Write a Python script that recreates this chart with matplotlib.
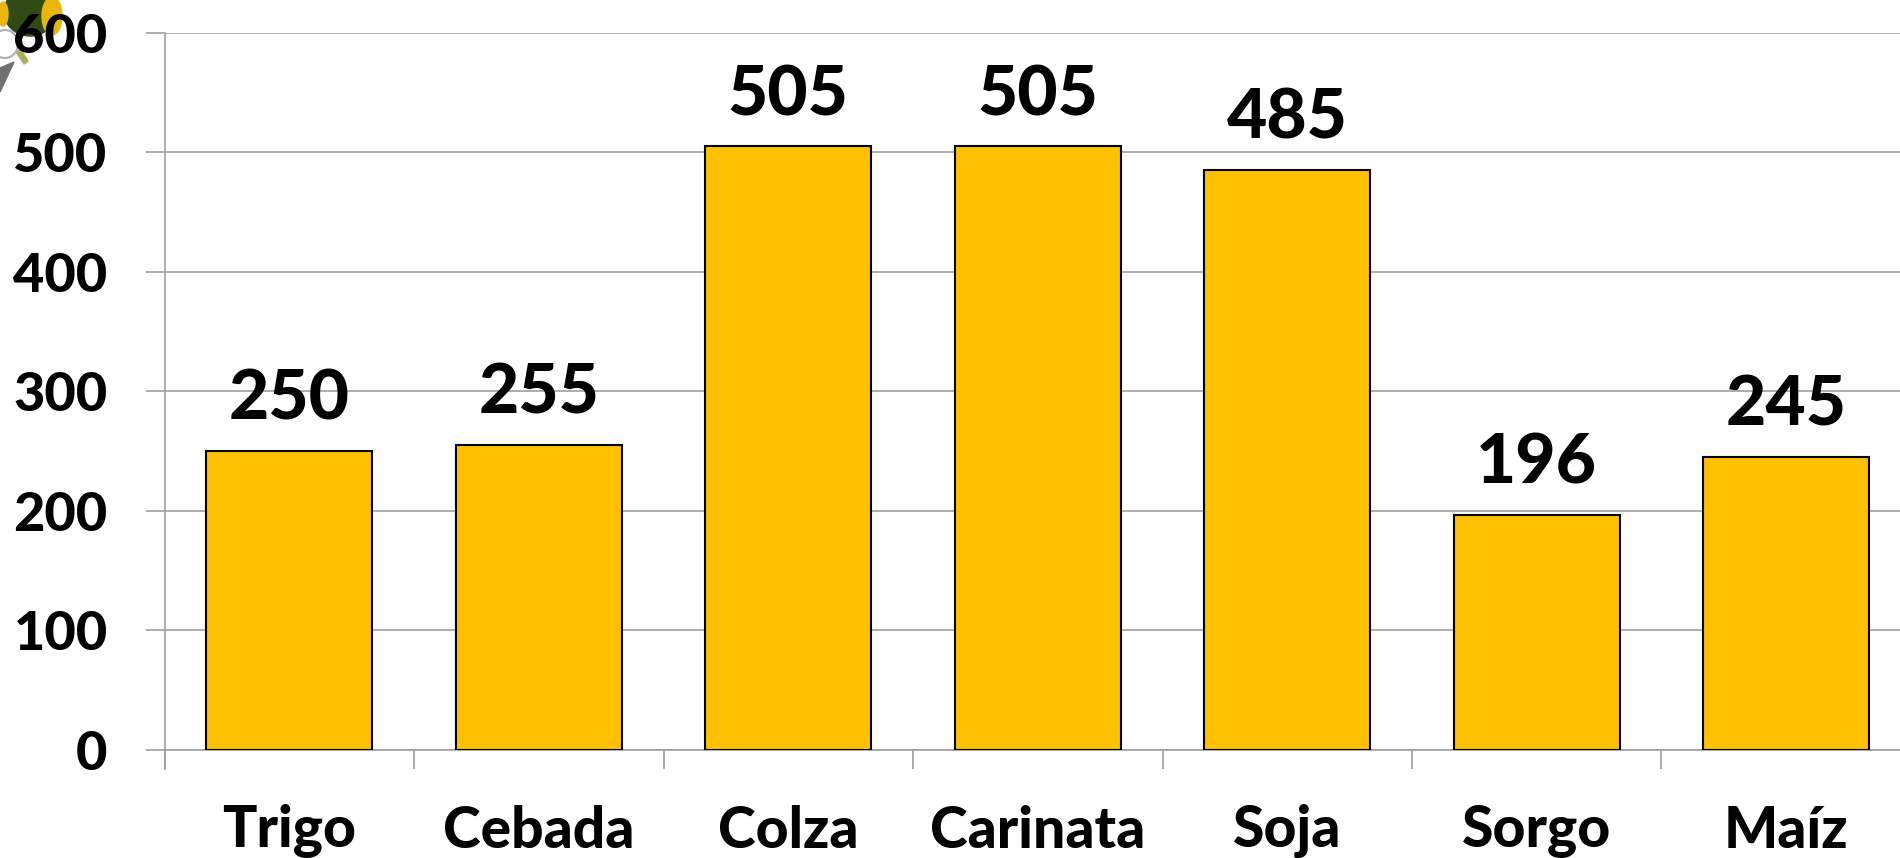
import matplotlib
matplotlib.use("Agg")
import matplotlib.pyplot as plt
from matplotlib.patches import Ellipse, Polygon

categorias = ["Trigo", "Cebada", "Colza", "Carinata", "Soja", "Sorgo", "Maíz"]
valores = [250, 255, 505, 505, 485, 196, 245]
y_ticks = [0, 100, 200, 300, 400, 500, 600]

plt.rcParams["font.family"] = ["Lato", "DejaVu Sans"]

W, H = 1900, 858
fig = plt.figure(figsize=(W / 100, H / 100), dpi=100)
x0, x1, y_top, y_bot = 164.5, 1900, 33, 749.5
ax = fig.add_axes([x0 / W, 1 - y_bot / H, (x1 - x0) / W, (y_bot - y_top) / H])
ax.patch.set_alpha(0)

gris = "#a0a0a0"
paso = 249.5
peso = "black"
ax.bar(range(len(valores)), valores, width=0.665, color="#FFC000",
       edgecolor="black", linewidth=1.5, zorder=3)
ax.set_xlim(-0.5, -0.5 + (x1 - x0) / paso)
ax.set_ylim(0, 600)

ax.set_yticks(y_ticks)
ax.set_yticklabels(y_ticks, fontsize=39, fontweight=peso)
ax.yaxis.grid(True, color=gris, linewidth=1.2, zorder=0)
ax.set_axisbelow(True)
ax.set_xticks([i - 0.5 for i in range(len(categorias))])
ax.set_xticklabels([])
ax.tick_params(axis="y", length=14, width=1.2, color=gris, pad=27)
ax.tick_params(axis="x", length=14, width=1.2, color=gris)
for s in ["top", "right"]:
    ax.spines[s].set_visible(False)
for s in ["left", "bottom"]:
    ax.spines[s].set_color(gris)
    ax.spines[s].set_linewidth(1.2)
# el eje vertical baja un poco por debajo del cero
ax.plot([-0.5, -0.5], [0, -19 / (y_bot - y_top) * 600], color=gris, lw=1.2, clip_on=False)

for i, (c, v) in enumerate(zip(categorias, valores)):
    ax.annotate(str(v), (i, v), xytext=(0, 14), textcoords="offset points",
                ha="center", va="bottom", fontsize=50, fontweight=peso, zorder=5)
    ax.annotate(c, (i, 0), xytext=(0, -59), textcoords="offset points",
                ha="center", va="center", fontsize=41, fontweight=peso, annotation_clip=False)

# recorte de la foto de girasoles en la esquina
deco = fig.add_axes([0, 0, 1, 1], zorder=-1)
deco.set_xlim(0, W)
deco.set_ylim(H, 0)
deco.axis("off")
deco.add_patch(Ellipse((30, 12), 52, 48, color="#2f4a12"))
deco.add_patch(Ellipse((52, 16), 20, 38, color="#e8b60c"))
deco.add_patch(Ellipse((3, 14), 10, 24, color="#e8b60c"))
deco.add_patch(Polygon([[0, 68], [14, 62], [0, 92]], color="#707070"))
deco.add_patch(Polygon([[16, 52], [21, 50], [28, 61], [24, 64]], color="#a8b060"))
deco.add_patch(Ellipse((5, 44), 26, 28, fc="white", ec="#b0b0b0", lw=1.5))

fig.savefig("out.png", dpi=100)
